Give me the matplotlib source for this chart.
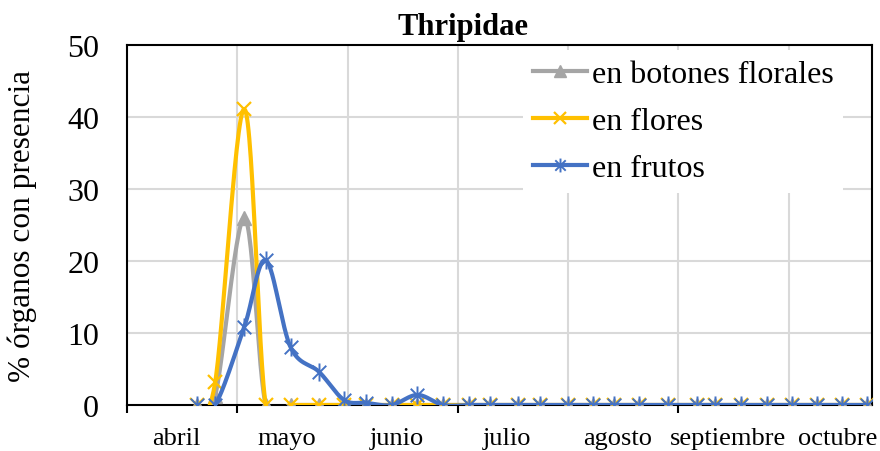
import numpy as np
import matplotlib
matplotlib.use('Agg')
import matplotlib.pyplot as plt
from matplotlib.path import Path

# sampling dates (day/month) and % of organs with Thripidae
fechas = ['20/4', '25/4', '3/5', '9/5', '16/5', '24/5', '31/5', '6/6', '13/6', '20/6',
          '27/6', '4/7', '10/7', '18/7', '24/7', '1/8', '8/8', '14/8', '21/8', '29/8',
          '6/9', '11/9', '18/9', '25/9', '2/10', '9/10', '16/10', '23/10']

botones = [0, 1.3, 26, 0, 0, 0, 0, 0, 0, 0,
           0, 0, 0, 0, 0, 0, 0, 0, 0, 0,
           0, 0, 0, 0, 0, 0, 0, 0]
flores = [0, 3.2, 41.1, 0, 0, 0, 0, 0, 0, 0,
          0, 0, 0, 0, 0, 0, 0, 0, 0, 0,
          0, 0, 0, 0, 0, 0, 0, 0]
frutos = [0, 0, 10.9, 20.1, 8.0, 4.6, 0.7, 0.3, 0, 1.4,
          0, 0, 0, 0, 0, 0, 0, 0, 0, 0,
          0, 0, 0, 0, 0, 0, 0, 0]

meses = ['abril', 'mayo', 'junio', 'julio', 'agosto', 'septiembre', 'octubre']
dias_mes = [30, 31, 30, 31, 31, 30, 31]

LEGENDS = ['en botones florales', 'en flores', 'en frutos']


def fecha_a_mes(f):
    d, m = f.split('/')
    i = int(m) - 4
    return i + (int(d) - 1) / dias_mes[i]


def suavizar(x, y, sx, sy, n=30):
    # excel style smoothing (catmull-rom bezier) done in pixel space
    P = np.column_stack([np.asarray(x) * sx, np.asarray(y) * sy])
    out = [P[0]]
    for i in range(len(P) - 1):
        p0 = P[i - 1] if i > 0 else P[i]
        p1 = P[i]
        p2 = P[i + 1]
        p3 = P[i + 2] if i + 2 < len(P) else P[i + 1]
        c1 = p1 + (p2 - p0) / 6.0
        c2 = p2 - (p3 - p1) / 6.0
        t = np.linspace(0, 1, n)[1:, None]
        b = ((1 - t) ** 3) * p1 + 3 * ((1 - t) ** 2) * t * c1 + 3 * (1 - t) * t ** 2 * c2 + t ** 3 * p2
        out.extend(b)
    out = np.array(out)
    return out[:, 0] / sx, out[:, 1] / sy


plt.rcParams['font.family'] = ['Liberation Serif', 'DejaVu Serif']

W, H = 880, 452
fig = plt.figure(figsize=(W / 100, H / 100), dpi=100)
L, R, T, B = 127, 872, 46, 406
ax = fig.add_axes([L / W, 1 - B / H, (R - L) / W, (B - T) / H])

xmax = 6.755
ymax = 50
sx = (R - L) / xmax
sy = (B - T) / ymax

xs = [fecha_a_mes(f) for f in fechas]

# excel "star" marker: an X with a vertical bar
estrella = Path([(-0.75, -0.75), (0.75, 0.75), (-0.75, 0.75), (0.75, -0.75), (0, -1), (0, 1)],
                [Path.MOVETO, Path.LINETO] * 3)

series = [(botones, '#A5A5A5', '^', 10, 1.0),
          (flores, '#FFC000', 'x', 9.5, 1.6),
          (frutos, '#4472C4', estrella, 13, 1.4)]

for k, (vals, col, mk, ms, mew) in enumerate(series):
    px, py = suavizar(xs, vals, sx, sy)
    ax.plot(px, py, color=col, lw=3.0, solid_capstyle='round', zorder=3 + k)
    ax.plot(xs, vals, ls='none', marker=mk, ms=ms, color=col, mec=col, mfc=col,
            mew=mew, zorder=3 + k)
    # legend proxy
    ax.plot([], [], color=col, lw=3.0, marker=mk, ms=min(ms, 11) - 1, mec=col, mfc=col,
            mew=mew, label=LEGENDS[k])

ax.set_xlim(0, xmax)
ax.set_ylim(0, ymax)

ax.set_yticks([0, 10, 20, 30, 40, 50])
ax.tick_params(axis='y', length=0, pad=20, labelsize=23)

ax.set_xticks([0, 1, 3, 5])
ax.set_xticklabels([])
ax.set_xticks([i + 0.445 for i in range(len(meses))], minor=True)
ax.set_xticklabels(meses, minor=True)
ax.tick_params(axis='x', which='major', direction='out', length=6, width=1.5, color='black')
ax.tick_params(axis='x', which='minor', length=0, pad=16, labelsize=19)

for g in [10, 20, 30, 40]:
    ax.axhline(g, color='#D9D9D9', lw=1.5, zorder=1)
for g in range(1, 7):
    ax.axvline(g, color='#D9D9D9', lw=1.5, zorder=1)

for s in ax.spines.values():
    s.set_color('black')
    s.set_linewidth(1.5)
ax.spines['bottom'].set_zorder(2)

fig.text(22 / W, 1 - 226 / H, '% órganos con presencia', rotation=90,
         ha='center', va='center', fontsize=22.5)
fig.text(463 / W, 1 - 35 / H, 'Thripidae', ha='center', va='baseline',
         fontsize=22, fontweight='bold')

leg = ax.legend(loc='upper left', bbox_to_anchor=(523 / W, 1 - 51 / H),
                bbox_transform=fig.transFigure, fontsize=23, frameon=True,
                handlelength=1.7, handletextpad=0.15, borderpad=0.3,
                labelspacing=0.56, borderaxespad=0, fancybox=False)
leg.get_frame().set_facecolor('white')
leg.get_frame().set_edgecolor('none')
leg.get_frame().set_alpha(1)
leg.set_zorder(10)

plt.savefig('out.png', dpi=100)
